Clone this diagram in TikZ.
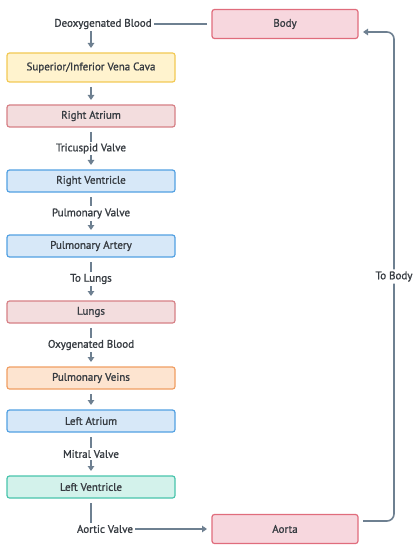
\documentclass[tikz,border=0pt]{standalone}
\usepackage{fontspec}
\setmainfont{PT Sans}[BoldFont={PT Sans}, BoldFeatures={FakeBold=1.2}]
\usetikzlibrary{positioning,calc,arrows.meta}
\usepackage{xcolor}
\definecolor{ink}{RGB}{55,60,66}
\definecolor{flow}{RGB}{110,128,145}
\definecolor{rosefill}{RGB}{247,215,222}
\definecolor{rosedraw}{RGB}{224,108,124}
\definecolor{atrfill}{RGB}{243,221,222}
\definecolor{atrdraw}{RGB}{214,128,134}
\definecolor{cavafill}{RGB}{255,243,206}
\definecolor{cavadraw}{RGB}{242,201,84}
\definecolor{bluefill}{RGB}{215,232,248}
\definecolor{bluedraw}{RGB}{82,160,226}
\definecolor{orfill}{RGB}{253,228,208}
\definecolor{ordraw}{RGB}{240,158,98}
\definecolor{tealfill}{RGB}{211,242,235}
\definecolor{tealdraw}{RGB}{72,196,172}

\begin{document}
\begin{tikzpicture}[
    x=1pt, y=1pt,
    >={Triangle[length=5pt,width=6.5pt]},
    every node/.style={font=\fontsize{11}{12}\selectfont\bfseries, text=ink},
    box/.style={
        draw,
        line width=1.2pt,
        rounded corners=2.5pt,
        minimum width=168pt,
        minimum height=22pt,
        inner sep=0pt,
        outer sep=0pt,
        align=center
    },
    tallbox/.style={
        box,
        minimum height=29pt
    },
    sidebox/.style={
        tallbox,
        minimum width=146pt
    },
    link/.style={
        line width=1.6pt,
        flow,
        shorten <=5pt,
        shorten >=5pt
    },
    arrow/.style={
        link,
        ->
    },
    lbl/.style={
        fill=white,
        inner sep=2pt
    }
]

\useasboundingbox (0,0) rectangle (417,-548);

\node[
    sidebox,
    fill=rosefill,
    draw=rosedraw
] (body) at (285,-24)
{Body};

\node[
    tallbox,
    fill=cavafill,
    draw=cavadraw
] (cava) at (91,-67.5)
{Superior/Inferior Vena Cava};

\node[
    box,
    fill=atrfill,
    draw=atrdraw,
    below=23pt of cava
] (ratrium)
{Right Atrium};

\node[
    box,
    fill=bluefill,
    draw=bluedraw,
    below=43pt of ratrium
] (rventricle)
{Right Ventricle};

\node[
    box,
    fill=bluefill,
    draw=bluedraw,
    below=43pt of rventricle
] (partery)
{Pulmonary Artery};

\node[
    box,
    fill=atrfill,
    draw=atrdraw,
    below=44pt of partery
] (lungs)
{Lungs};

\node[
    box,
    fill=orfill,
    draw=ordraw,
    below=44pt of lungs
] (pveins)
{Pulmonary Veins};

\node[
    box,
    fill=bluefill,
    draw=bluedraw,
    below=21pt of pveins
] (latrium)
{Left Atrium};

\node[
    box,
    fill=tealfill,
    draw=tealdraw,
    below=44pt of latrium
] (lventricle)
{Left Ventricle};

\node[
    sidebox,
    fill=rosefill,
    draw=rosedraw
] (aorta) at (285,-529)
{Aorta};

% venous return into the right heart
\draw[
    arrow
]
(body.west) -| node[pos=0.5, xshift=12pt, lbl] {Deoxygenated Blood} (cava.north);

\draw[
    arrow
]
(cava) -- (ratrium);

\draw[
    arrow
]
(ratrium) -- node[lbl] {Tricuspid Valve} (rventricle);

\draw[
    arrow
]
(rventricle) -- node[lbl] {Pulmonary Valve} (partery);

\draw[
    arrow
]
(partery) -- node[lbl] {To Lungs} (lungs);

\draw[
    arrow
]
(lungs) -- node[lbl] {Oxygenated Blood} (pveins);

\draw[
    arrow
]
(pveins) -- (latrium);

\draw[
    arrow
]
(latrium) -- node[lbl] {Mitral Valve} (lventricle);

\draw[
    arrow
]
(lventricle.south) |- node[pos=0.5, xshift=14pt, lbl] {Aortic Valve} (aorta.west);

% back to the body
\draw[
    arrow,
    rounded corners=7pt
]
([yshift=8pt]aorta.east) -| node[pos=0.75, lbl] {To Body} ([xshift=36pt, yshift=-8pt]body.east) -- ([yshift=-8pt]body.east);

\end{tikzpicture}
\end{document}
